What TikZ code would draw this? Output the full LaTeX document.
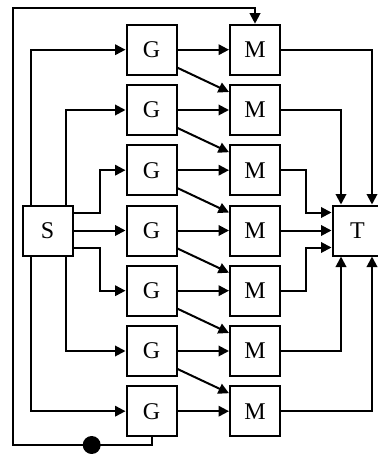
\documentclass[tikz,border=0pt]{standalone}
\usepackage{fontspec}
\setmainfont{Liberation Serif}
\usetikzlibrary{arrows.meta}
\tikzset{
  blk/.style={draw, line width=2pt, minimum size=50pt, inner sep=0pt,
    font=\fontsize{24}{24}\selectfont, fill=white},
  wire/.style={line width=2pt},
  arr/.style={wire, -{Triangle[length=10.5pt,width=10.5pt]}},
}
\begin{document}
\begin{tikzpicture}[x=1pt, y=-1pt]
  \useasboundingbox (0,0) rectangle (377,454);

  % source, target
  \node[blk] (S) at (47.5,230.5) {S};
  \node[blk] (T) at (357.5,230.5) {T};

  % G and M columns
  \foreach \i/\y in {1/49.7,2/110,3/170.2,4/230.5,5/290.7,6/351,7/411.2}{
    \node[blk] (G\i) at (151.5,\y) {G};
    \node[blk] (M\i) at (255,\y) {M};
  }

  % S to the G blocks
  \draw[arr] ([xshift=-16.5pt]S.north) |- (G1.west);
  \draw[arr] ([xshift=18pt]S.north) |- (G2.west);
  \draw[arr] ([yshift=18pt]S.east) -- ++(26,0) |- (G3.west);
  \draw[arr] (S.east) -- (G4.west);
  \draw[arr] ([yshift=-17pt]S.east) -- ++(26,0) |- (G5.west);
  \draw[arr] ([xshift=18pt]S.south) |- (G6.west);
  \draw[arr] ([xshift=-16.5pt]S.south) |- (G7.west);

  % G to M: straight and diagonal links
  \foreach \i in {1,...,7}{
    \draw[arr] (G\i.east) -- (M\i.west);
  }
  \foreach \i/\j in {1/2,2/3,3/4,4/5,5/6,6/7}{
    \draw[arr] ([yshift=-18pt]G\i.east) -- ([yshift=18pt]M\j.west);
  }

  % M blocks to T
  \draw[arr] (M1.east) -| ([xshift=14.5pt]T.north);
  \draw[arr] (M2.east) -| ([xshift=-16.5pt]T.north);
  \draw[arr] (M3.east) -- ++(25,0) |- ([yshift=18pt]T.west);
  \draw[arr] (M4.east) -- (T.west);
  \draw[arr] (M5.east) -- ++(25,0) |- ([yshift=-17pt]T.west);
  \draw[arr] (M6.east) -| ([xshift=-16.5pt]T.south);
  \draw[arr] (M7.east) -| ([xshift=14.5pt]T.south);

  % feedback loop from the last G back to the first M
  \coordinate (fbB) at (13,445);
  \coordinate (fbT) at (13,8);
  \draw[arr] (G7.south) |- (fbB) -- (fbT) -| (M1.north);
  \node[circle, fill, minimum size=18pt, inner sep=0pt] (dot) at (91.7,445) {};
\end{tikzpicture}
\end{document}
